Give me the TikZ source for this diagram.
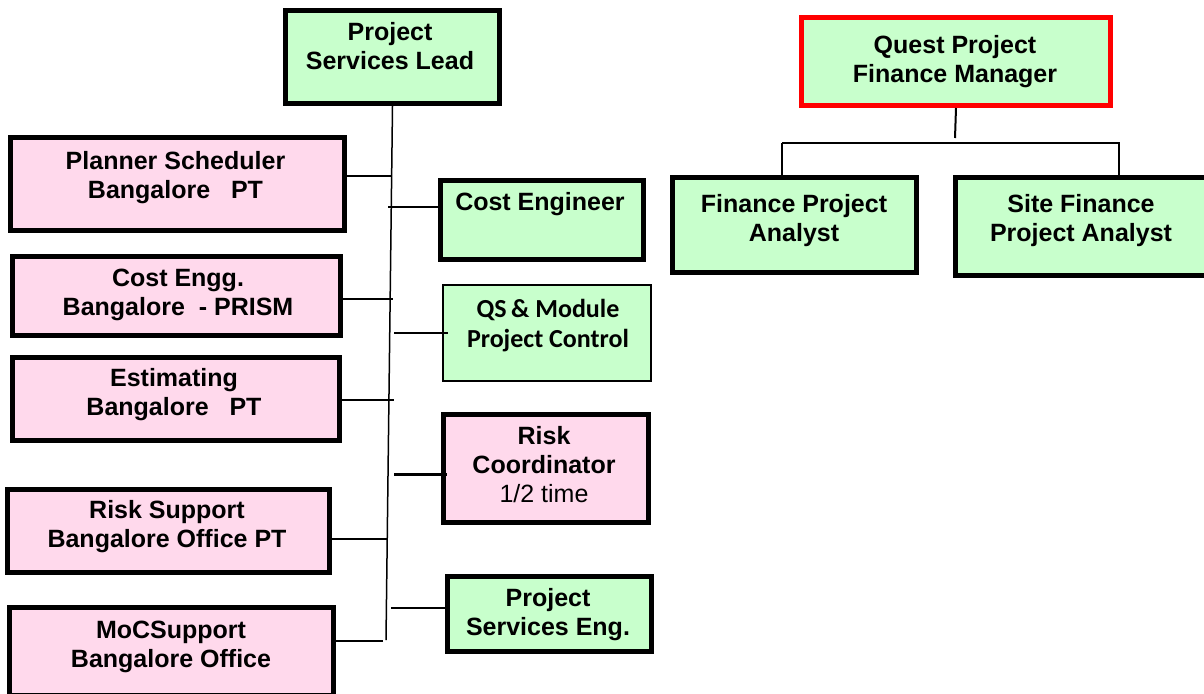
\documentclass[tikz,border=0pt]{standalone}
\usepackage{fontspec}
\setmainfont{Liberation Sans}
\newfontfamily\calib{Carlito}
\usepackage{tikz}

\definecolor{mint}{RGB}{200,255,204}
\definecolor{blush}{RGB}{255,217,236}

\tikzset{
  gbox/.style={draw, line width=5pt, fill=mint, inner sep=0pt},
  pbox/.style={draw, line width=5pt, fill=blush, inner sep=0pt},
  lbl/.style={font=\bfseries\fontsize{25}{29}\selectfont, align=center, anchor=base, inner sep=0pt},
  br/.style={line width=2pt}
}

\begin{document}
\begin{tikzpicture}[x=1pt, y=-1pt]
\useasboundingbox (0,0) rectangle (1204,693);

% left tree
\node[gbox, minimum width=214, minimum height=93] (lead) at (392.5,57) {};
\node[pbox, minimum width=334, minimum height=93] (plan) at (177.5,184) {};
\node[pbox, minimum width=328, minimum height=79] (cest) at (176.5,296) {};
\node[pbox, minimum width=327, minimum height=83] (est) at (176,399) {};
\node[pbox, minimum width=322, minimum height=83] (rsup) at (168.5,531) {};
\node[pbox, minimum width=324, minimum height=88] (moc) at (171.5,651.5) {};

\node[gbox, minimum width=203, minimum height=79] (ceng) at (542,220) {};
\node[gbox, line width=2pt, minimum width=208, minimum height=96] (qs) at (547,333) {};
\node[pbox, minimum width=205, minimum height=108] (risk) at (546,468.5) {};
\node[gbox, minimum width=204, minimum height=75] (pse) at (549.5,614) {};

% labels sit on the baseline of their last line
\node[lbl] (lead-t) at (390,70) {Project\\Services Lead};
\node[lbl] (plan-t) at (175.5,198) {Planner Scheduler\\Bangalore~~~PT};
\node[lbl] (cest-t) at (178,315) {Cost Engg.\\Bangalore~~- PRISM};
\node[lbl] (est-t) at (174,415) {Estimating\\Bangalore~~~PT};
\node[lbl] (rsup-t) at (167,547) {Risk Support\\Bangalore Office PT};
\node[lbl] (moc-t) at (171,667) {MoCSupport\\Bangalore Office};
\node[lbl] (ceng-t) at (540,210) {Cost Engineer};
\node[lbl, font=\calib\bfseries\fontsize{26}{30}\selectfont] (qs-t) at (548,347) {QS\,\& Module\\Project Control};
\node[lbl, font=\bfseries\fontsize{25}{29}\selectfont] (risk-t) at (544,502) {Risk\\Coordinator\\\mdseries 1/2 time};
\node[lbl] (pse-t) at (548,635) {Project\\Services Eng.};

\coordinate (bot) at (386,640);
\coordinate (j1) at (391,176);
\coordinate (j2) at (388,207);
\coordinate (j3) at (393,299);
\coordinate (j4) at (394,333);
\coordinate (j5) at (394,400);
\coordinate (j6) at (394,474);
\coordinate (j7) at (388,539);
\coordinate (j8) at (391,608);
\coordinate (j9) at (383,641);

\draw[line width=1.5pt] (lead.south) -- (bot);
\draw[br] (plan.east |- j1) -- (j1);
\draw[br] (j2) -- (ceng.west |- j2);
\draw[br] (cest.east |- j3) -- (j3);
\draw[br] (j4) -- ([xshift=6pt]qs.west |- j4);
\draw[br] (est.east |- j5) -- (j5);
\draw[line width=3pt] (j6) -- ([xshift=6pt]risk.west |- j6);
\draw[br] (rsup.east |- j7) -- (j7);
\draw[br] (j8) -- (pse.west |- j8);
\draw[br] (moc.east |- j9) -- (j9);

% right tree
\node[gbox, draw=red, minimum width=309, minimum height=88] (qpfm) at (956,61.5) {};
\node[gbox, minimum width=244, minimum height=95] (fpa) at (794.5,225) {};
\node[gbox, minimum width=254, minimum height=98] (sfpa) at (1082.5,226.5) {};

\node[lbl] (qpfm-t) at (955,82) {Quest Project\\Finance Manager};
\node[lbl] (fpa-t) at (794,241) {Finance Project\\Analyst};
\node[lbl] (sfpa-t) at (1081,241) {Site Finance\\Project Analyst};

\coordinate (m) at (955,138);
\coordinate (hl) at (782,143);
\coordinate (hr) at (1120,143);

\draw[br] (qpfm.south) -- (m);
\draw[br] (hl) -- (hr);
\draw[br] (hl) -- (hl |- fpa.north);
\draw[br] ([xshift=-1pt]hr) -- ([xshift=-1pt]hr |- sfpa.north);
\end{tikzpicture}
\end{document}
